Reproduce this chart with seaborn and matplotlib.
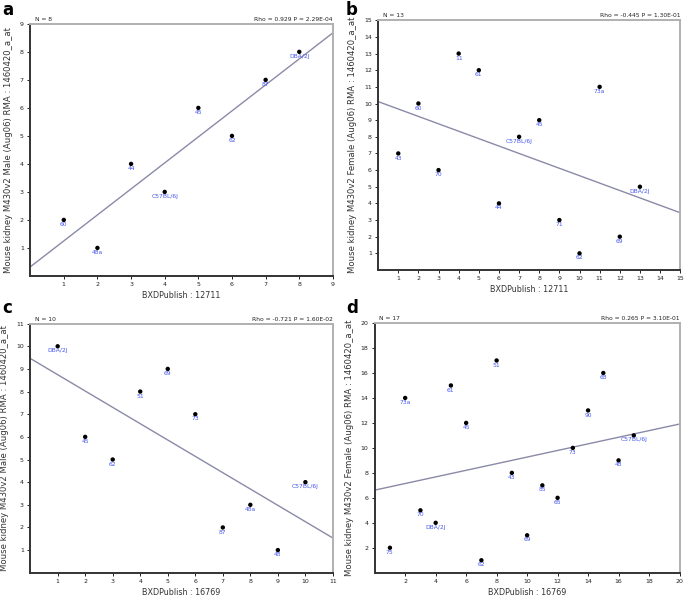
import numpy as np
import pandas as pd
import matplotlib
matplotlib.use("Agg")
import matplotlib.pyplot as plt
import seaborn as sns

sns.set_theme(style="white")
plt.rcParams['font.family'] = ['DejaVu Sans']

# ---- data ----
a_x = [1, 2, 3, 4, 5, 6, 7, 8]
a_y = [2, 1, 4, 3, 6, 5, 7, 8]
a_lab = ["60", "48a", "44", "C57BL/6J", "45", "62", "87", "DBA/2J"]

b_x = [1, 2, 3, 4, 5, 6, 7, 8, 9, 10, 11, 12, 13]
b_y = [7, 10, 6, 13, 12, 4, 8, 9, 3, 1, 11, 2, 5]
b_lab = ["43", "60", "70", "11", "61", "44", "C57BL/6J", "45", "71", "62", "73a", "69", "DBA/2J"]

c_x = [1, 2, 3, 4, 5, 6, 7, 8, 9, 10]
c_y = [10, 6, 5, 8, 9, 7, 2, 3, 1, 4]
c_lab = ["DBA/2J", "45", "62", "51", "69", "73", "87", "48a", "48", "C57BL/6J"]

d_x = [1, 2, 3, 4, 5, 6, 7, 8, 9, 10, 11, 12, 13, 14, 15, 16, 17]
d_y = [2, 14, 5, 4, 15, 12, 1, 17, 8, 3, 7, 6, 10, 13, 16, 9, 11]
d_lab = ["75", "73a", "70", "DBA/2J", "61", "45", "62", "51", "43", "69", "85", "65",
         "73", "90", "68", "48", "C57BL/6J"]

panels = [
    dict(letter="a", x=a_x, y=a_y, lab=a_lab, lim=9, ticks=list(range(1, 10)),
         n="N = 8", stat="Rho = 0.929 P = 2.29E-04",
         xlabel="BXDPublish : 12711",
         ylabel="Mouse kidney M430v2 Male (Aug06) RMA : 1460420_a_at",
         pos=[0.044, 0.537, 0.442, 0.423], lpos=(0.004, 0.998)),
    dict(letter="b", x=b_x, y=b_y, lab=b_lab, lim=15, ticks=list(range(1, 16)),
         n="N = 13", stat="Rho = -0.445 P = 1.30E-01",
         xlabel="BXDPublish : 12711",
         ylabel="Mouse kidney M430v2 Female (Aug06) RMA : 1460420_a_at",
         pos=[0.552, 0.547, 0.441, 0.419], lpos=(0.505, 0.998)),
    dict(letter="c", x=c_x, y=c_y, lab=c_lab, lim=11, ticks=list(range(1, 12)),
         n="N = 10", stat="Rho = -0.721 P = 1.60E-02",
         xlabel="BXDPublish : 16769",
         ylabel="Mouse kidney M430v2 Male (Aug06) RMA : 1460420_a_at",
         pos=[0.044, 0.039, 0.442, 0.418], lpos=(0.004, 0.498)),
    dict(letter="d", x=d_x, y=d_y, lab=d_lab, lim=20, ticks=list(range(2, 21, 2)),
         n="N = 17", stat="Rho = 0.265 P = 3.10E-01",
         xlabel="BXDPublish : 16769",
         ylabel="Mouse kidney M430v2 Female (Aug06) RMA : 1460420_a_at",
         pos=[0.547, 0.039, 0.445, 0.419], lpos=(0.505, 0.498)),
]

fig = plt.figure(figsize=(6.85, 5.96), dpi=100)
fig.patch.set_facecolor("white")

for p in panels:
    ax = fig.add_axes(p["pos"])
    df = pd.DataFrame({"x": p["x"], "y": p["y"], "lab": p["lab"]})
    ax.set_xlim(0, p["lim"])
    ax.set_ylim(0, p["lim"])
    sns.regplot(data=df, x="x", y="y", scatter=False, ci=None, truncate=False,
                ax=ax, line_kws=dict(color="#8a8aa8", lw=1.0))
    sns.scatterplot(data=df, x="x", y="y", ax=ax, color="black", s=10,
                    edgecolor="none", zorder=3)
    for _, r in df.iterrows():
        ax.annotate(r["lab"], (r["x"], r["y"]), xytext=(0, -1.5),
                    textcoords="offset points", ha="center", va="top",
                    fontsize=4.3, color="#4455ee", zorder=4)
    ax.set_xlim(0, p["lim"])
    ax.set_ylim(0, p["lim"])
    ax.set_xticks(p["ticks"])
    ax.set_yticks(p["ticks"])
    ax.tick_params(axis="both", which="both", direction="out", length=2.5,
                   width=0.7, colors="#222222", labelsize=4.5, pad=2,
                   bottom=True, left=True)
    ax.set_xlabel(p["xlabel"], fontsize=5.8, color="#333333", labelpad=3)
    ax.set_ylabel(p["ylabel"], fontsize=6.1, color="#333333", labelpad=5)
    for s in ("left", "bottom"):
        ax.spines[s].set_color("#333333")
        ax.spines[s].set_linewidth(1.4)
    for s in ("top", "right"):
        ax.spines[s].set_color("#b0b0b0")
        ax.spines[s].set_linewidth(1.4)
    ax.text(0.015, 1.008, p["n"], transform=ax.transAxes, fontsize=4.3,
            ha="left", va="bottom", color="#222222")
    ax.text(1.0, 1.008, p["stat"], transform=ax.transAxes, fontsize=4.3,
            ha="right", va="bottom", color="#222222")
    fig.text(p["lpos"][0], p["lpos"][1], p["letter"], fontsize=12,
             fontweight="bold", ha="left", va="top", color="black")

fig.savefig("out.png", dpi=100, facecolor="white")
